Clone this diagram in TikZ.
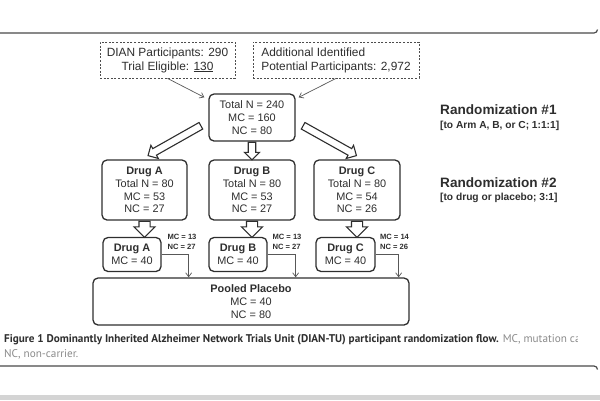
\documentclass[tikz,border=0pt]{standalone}
\usepackage{fontspec}
\setmainfont{Liberation Sans}
\newfontfamily\capfont{PT Sans}
\usetikzlibrary{shapes.arrows,calc,arrows.meta}

\definecolor{ink}{HTML}{2E2E2E}
\definecolor{framegray}{HTML}{4A4A4A}
\definecolor{capgray}{HTML}{8A8A8A}
\definecolor{barfill}{HTML}{D4D4D4}

\tikzstyle{dashbox} = [rectangle, draw=ink!85, dash pattern=on 2pt off 1.6pt, line width=0.8pt, text=ink, font=\fontsize{11.9}{14}\selectfont, inner sep=0pt]
\tikzstyle{rbox} = [rectangle, rounded corners=5pt, draw=ink, line width=1.3pt, text=ink, font=\fontsize{10.9}{12.8}\selectfont, align=center, inner sep=0pt]
\tikzstyle{split} = [text=ink, font=\bfseries\fontsize{7.6}{10}\selectfont, align=left, inner sep=0pt]
\tikzstyle{rando} = [anchor=west, text=ink, inner sep=0pt]
\tikzstyle{feed} = [draw=ink!80, line width=0.7pt, -{Straight Barb[length=4pt,width=6pt]}]
\tikzstyle{fatarrow} = [single arrow, draw=ink, line width=1.1pt, fill=white, inner xsep=0pt, minimum width=0pt, single arrow head indent=0pt]
\tikzstyle{capline} = [anchor=west, inner sep=0pt, font=\capfont\fontsize{11.2}{13}\selectfont]

% hollow arrow: from, to, half shaft, head extend
\newcommand{\hollowarrow}[4]{%
  \path let \p1=(#1), \p2=(#2), \n1={veclen(\x2-\x1,\y2-\y1)}, \n2={atan2(\y2-\y1,\x2-\x1)} in
    node[fatarrow, inner ysep=#3, single arrow head extend=#4, minimum height=\n1, rotate=\n2, anchor=tail] at (\p1) {};}

\begin{document}
\begin{tikzpicture}[x=1pt,y=-1pt]
  \useasboundingbox (0,0) rectangle (600,400);

  % page frame
  \draw[framegray, line width=1.2pt] (0,33) -- (594,33) arc[start angle=90, end angle=0, radius=3.5];
  \draw[framegray, line width=1.2pt] (0,366) -- (594,366) arc[start angle=-90, end angle=0, radius=3.5];
  \fill[barfill] (0,395) rectangle (600,400);

  % sources
  \node[dashbox, minimum width=135pt, minimum height=36pt, align=center] (dian) at (167.5,60) {DIAN Participants: 290\\Trial Eligible: \underline{130}};
  \node[dashbox, minimum width=166pt, minimum height=36pt, align=left] (addl) at (336,60) {Additional Identified\\Potential Participants: 2,972};

  \node[rbox, minimum width=86pt, minimum height=47pt] (total) at (252,117.5) {Total N = 240\\MC = 160\\NC = 80};

  % arms
  \node[rbox, minimum width=85pt, minimum height=60pt] (drugA) at (144.5,190) {\textbf{Drug A}\\Total N = 80\\MC = 53\\NC = 27};
  \node[rbox, minimum width=86pt, minimum height=60pt] (drugB) at (252,190) {\textbf{Drug B}\\Total N = 80\\MC = 53\\NC = 27};
  \node[rbox, minimum width=86pt, minimum height=60pt] (drugC) at (357,190) {\textbf{Drug C}\\Total N = 80\\MC = 54\\NC = 26};

  \node[rbox, minimum width=58pt, minimum height=34pt] (lowA) at (132,254.5) {\textbf{Drug A}\\MC = 40};
  \node[rbox, minimum width=58pt, minimum height=34pt] (lowB) at (238,254.5) {\textbf{Drug B}\\MC = 40};
  \node[rbox, minimum width=59pt, minimum height=34pt] (lowC) at (345.5,254.5) {\textbf{Drug C}\\MC = 40};

  \node[split] (spA) at (182,242) {MC = 13\\NC = 27};
  \node[split] (spB) at (287,242) {MC = 13\\NC = 27};
  \node[split] (spC) at (394.5,242) {MC = 14\\NC = 26};

  \node[rbox, minimum width=316pt, minimum height=47pt] (placebo) at (251,301.5) {\textbf{Pooled Placebo}\\MC = 40\\NC = 80};

  % labels on the right
  \node[rando, font=\bfseries\fontsize{13.6}{15}\selectfont] (r1) at (440,110) {Randomization \#1};
  \node[rando, font=\bfseries\fontsize{10.2}{12}\selectfont] (r1b) at (440,126) {[to Arm A, B, or C; 1:1:1]};
  \node[rando, font=\bfseries\fontsize{13.6}{15}\selectfont] (r2) at (440,183) {Randomization \#2};
  \node[rando, font=\bfseries\fontsize{10.2}{12}\selectfont] (r2b) at (440,198) {[to drug or placebo; 3:1]};

  % connectors
  \draw[feed] (dian.south) -- ([shift={(-4,4)}]total.north west);
  \draw[feed] (addl.south) -- ([shift={(3,4)}]total.north east);

  \hollowarrow{[shift={(-7,8)}]total.west}{[shift={(4,-4)}]drugA.north}{3.2pt}{3.8pt}
  \hollowarrow{total.south}{drugB.north}{3.2pt}{3.8pt}
  \hollowarrow{[shift={(7,8)}]total.east}{[shift={(-1,-4)}]drugC.north}{3.2pt}{3.8pt}

  \hollowarrow{drugA.south}{drugA.south |- lowA.north}{5pt}{5pt}
  \hollowarrow{drugB.south}{drugB.south |- lowB.north}{5pt}{5pt}
  \hollowarrow{drugC.south}{drugC.south |- lowC.north}{5pt}{5pt}

  \draw[feed] (lowA.east) -| ([xshift=27pt]lowA.east |- placebo.north);
  \draw[feed] (lowB.east) -| ([xshift=28pt]lowB.east |- placebo.north);
  \draw[feed] (lowC.east) -| ([xshift=23pt]lowC.east |- placebo.north);

  % caption
  \begin{scope}
    \clip (0,330) rectangle (577,348);
    \node[capline, text=ink] (cap1) at (4,340)
      {\textbf{Figure 1 Dominantly Inherited Alzheimer Network Trials Unit (DIAN-TU) participant randomization flow.} \textcolor{capgray}{MC, mutation ca}};
  \end{scope}
  \node[capline, text=capgray] (cap2) at (4,354) {NC, non-carrier.};
\end{tikzpicture}
\end{document}
